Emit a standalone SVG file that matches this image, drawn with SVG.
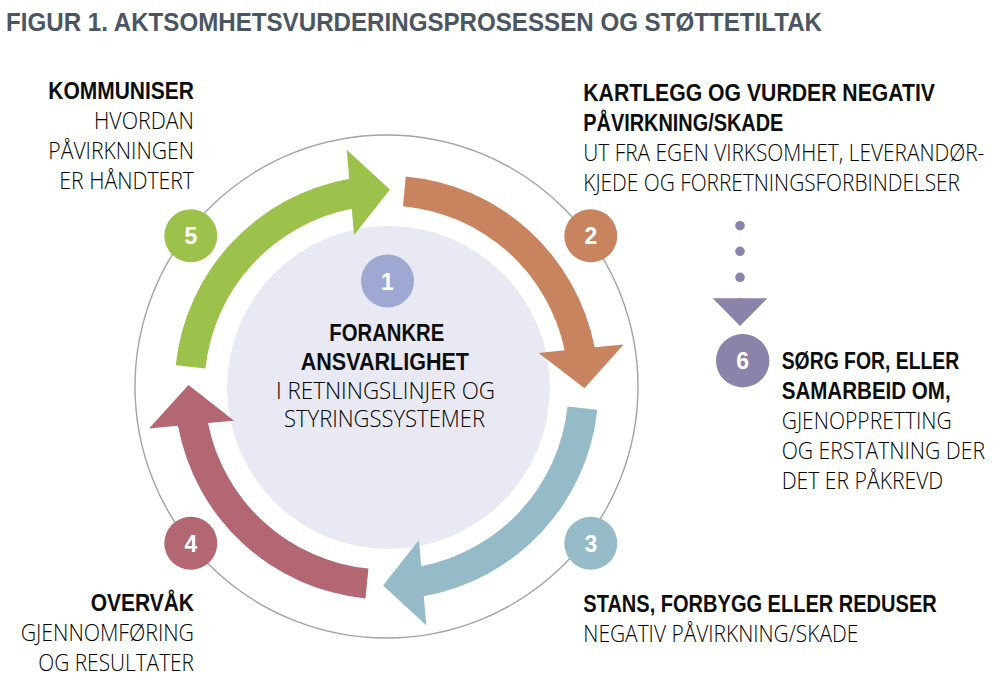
<svg xmlns="http://www.w3.org/2000/svg" width="1003" height="690" viewBox="0 0 1003 690">
<style>
.b{font-family:"Liberation Sans",Arial,sans-serif;font-weight:700;font-size:23.5px;fill:#0d0d0d}
.l{font-family:"Open Sans","Liberation Sans",sans-serif;font-weight:300;font-size:23.5px;fill:#000}
.num{font-family:"Liberation Sans",Arial,sans-serif;font-weight:700;font-size:23px;fill:#fff;text-anchor:middle}
.title{font-family:"Liberation Sans",Arial,sans-serif;font-weight:700;font-size:26px;fill:#4b5662}
</style>
<defs>
<path id="arr" d="M 18.48,-211.19 A 212 212 0 0 1 208.01,-40.91 L 236.96,-43.92 L 198,0 L 152.0,-35.09 L 178.04,-37.8 A 182 182 0 0 0 15.86,-181.31 Z"/>
</defs>
<rect width="1003" height="690" fill="#fff"/>
<text class="title" x="6" y="30.5" textLength="816" lengthAdjust="spacingAndGlyphs">FIGUR 1. AKTSOMHETSVURDERINGSPROSESSEN OG STØTTETILTAK</text>

<circle cx="386.5" cy="386.5" r="251.5" fill="none" stroke="#a3a3a3" stroke-width="1.4"/>

<g id="node1">
<circle cx="388.5" cy="387.5" r="161.5" fill="#e9e9f4"/>
<circle cx="387.5" cy="281" r="26.5" fill="#9fa8d3"/>
<text class="num" x="387.5" y="289.5">1</text>
<text class="b" x="329.3" y="340.5" textLength="115" lengthAdjust="spacingAndGlyphs">FORANKRE</text>
<text class="b" x="300.7" y="369.5" textLength="168.3" lengthAdjust="spacingAndGlyphs">ANSVARLIGHET</text>
<text class="l" x="276" y="398.5" textLength="219" lengthAdjust="spacingAndGlyphs">I RETNINGSLINJER OG</text>
<text class="l" x="284" y="427" textLength="201" lengthAdjust="spacingAndGlyphs">STYRINGSSYSTEMER</text>
</g>

<g id="connectors">
<use href="#arr" fill="#9dc24b" transform="translate(386.5,387.5) rotate(271)"/>
<use href="#arr" fill="#c8845f" transform="translate(386.5,387.5) rotate(0.2)"/>
<use href="#arr" fill="#95bac8" transform="translate(386.5,387.5) rotate(91)"/>
<use href="#arr" fill="#b26773" transform="translate(386.5,387.5) rotate(180.7)"/>
<g fill="#8b83a9">
<circle cx="740" cy="225.7" r="4.8"/>
<circle cx="740" cy="251.3" r="4.8"/>
<circle cx="740" cy="277.3" r="4.8"/>
<circle cx="740" cy="302.8" r="4.8"/>
<polygon points="712.7,298.3 767.3,298.3 740,326"/>
</g>
</g>

<g id="node2">
<circle cx="590.8" cy="235.8" r="26.5" fill="#c8845f"/>
<text class="num" x="590.8" y="244.3">2</text>
<text class="b" x="583.3" y="101" textLength="351.7" lengthAdjust="spacingAndGlyphs">KARTLEGG OG VURDER NEGATIV</text>
<text class="b" x="583.3" y="131" textLength="200" lengthAdjust="spacingAndGlyphs">PÅVIRKNING/SKADE</text>
<text class="l" x="583.3" y="161" textLength="401" lengthAdjust="spacingAndGlyphs">UT FRA EGEN VIRKSOMHET, LEVERANDØR-</text>
<text class="l" x="583.3" y="191" textLength="376.7" lengthAdjust="spacingAndGlyphs">KJEDE OG FORRETNINGSFORBINDELSER</text>
</g>

<g id="node3">
<circle cx="590.8" cy="543.3" r="26.5" fill="#95bac8"/>
<text class="num" x="590.8" y="551.8">3</text>
<text class="b" x="583.3" y="611.5" textLength="353.4" lengthAdjust="spacingAndGlyphs">STANS, FORBYGG ELLER REDUSER</text>
<text class="l" x="583.3" y="641.5" textLength="275" lengthAdjust="spacingAndGlyphs">NEGATIV PÅVIRKNING/SKADE</text>
</g>

<g id="node4">
<circle cx="190.8" cy="543.3" r="26.5" fill="#b26773"/>
<text class="num" x="190.8" y="551.8">4</text>
<text class="b" x="90.7" y="611" textLength="103.3" lengthAdjust="spacingAndGlyphs">OVERVÅK</text>
<text class="l" x="20.7" y="641" textLength="173.3" lengthAdjust="spacingAndGlyphs">GJENNOMFØRING</text>
<text class="l" x="38.3" y="671" textLength="155.7" lengthAdjust="spacingAndGlyphs">OG RESULTATER</text>
</g>

<g id="node5">
<circle cx="190.8" cy="235.8" r="26.5" fill="#9dc24b"/>
<text class="num" x="190.8" y="244.3">5</text>
<text class="b" x="48.3" y="98.5" textLength="145.7" lengthAdjust="spacingAndGlyphs">KOMMUNISER</text>
<text class="l" x="94" y="128.5" textLength="100" lengthAdjust="spacingAndGlyphs">HVORDAN</text>
<text class="l" x="48.3" y="158.5" textLength="145.7" lengthAdjust="spacingAndGlyphs">PÅVIRKNINGEN</text>
<text class="l" x="59.3" y="188.5" textLength="134.7" lengthAdjust="spacingAndGlyphs">ER HÅNDTERT</text>
</g>

<g id="node6">
<circle cx="742.7" cy="360.7" r="26.7" fill="#8b83a9"/>
<text class="num" x="742.7" y="369.2">6</text>
<text class="b" x="781.7" y="369" textLength="177.6" lengthAdjust="spacingAndGlyphs">SØRG FOR, ELLER</text>
<text class="b" x="781.7" y="398.5" textLength="169" lengthAdjust="spacingAndGlyphs">SAMARBEID OM,</text>
<text class="l" x="781.7" y="428.5" textLength="170" lengthAdjust="spacingAndGlyphs">GJENOPPRETTING</text>
<text class="l" x="781.7" y="458.5" textLength="203.3" lengthAdjust="spacingAndGlyphs">OG ERSTATNING DER</text>
<text class="l" x="781.7" y="488.5" textLength="161.6" lengthAdjust="spacingAndGlyphs">DET ER PÅKREVD</text>
</g>
</svg>
